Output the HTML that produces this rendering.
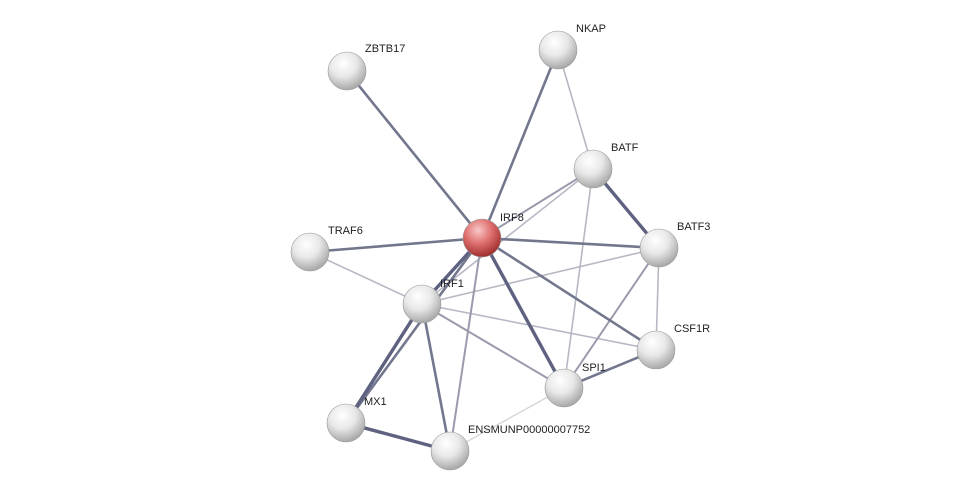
<!DOCTYPE html>
<html><head><style>
html,body{margin:0;padding:0;background:#fff;}
svg{display:block;}
text{font-family:"Liberation Sans",Arial,sans-serif;font-size:11px;fill:#222;}
</style></head><body>
<svg width="975" height="496" viewBox="0 0 975 496" xmlns="http://www.w3.org/2000/svg">
<defs>
<radialGradient id="g" cx="40%" cy="30%" r="70%">
<stop offset="0" stop-color="#ffffff"/><stop offset="0.5" stop-color="#e8e8e8"/><stop offset="1" stop-color="#a8a8a8"/>
</radialGradient>
<radialGradient id="r" cx="40%" cy="30%" r="70%">
<stop offset="0" stop-color="#f8c8c8"/><stop offset="0.5" stop-color="#e07070"/><stop offset="1" stop-color="#a03030"/>
</radialGradient>
</defs>
<g stroke-linecap="round">
<!-- light edges -->
<g stroke="#b8b8c4" stroke-width="1.6">
<line x1="558" y1="50" x2="593" y2="169"/>
<line x1="593" y1="169" x2="564" y2="388"/>
<line x1="593" y1="169" x2="422" y2="304"/>
<line x1="659" y1="248" x2="422" y2="304"/>
<line x1="659" y1="248" x2="656" y2="350"/>
<line x1="310" y1="252" x2="422" y2="304"/>
<line x1="422" y1="304" x2="656" y2="350"/>
</g>
<line x1="564" y1="388" x2="450" y2="451" stroke="#d6d6dc" stroke-width="1.4"/>
<g stroke="#9a9aac" stroke-width="2">
<line x1="482" y1="238" x2="593" y2="169"/>
<line x1="482" y1="238" x2="450" y2="451"/>
<line x1="659" y1="248" x2="564" y2="388"/>
<line x1="422" y1="304" x2="564" y2="388"/>
</g>
<g stroke="#73778e" stroke-width="2.6">
<line x1="347" y1="71" x2="482" y2="238"/>
<line x1="558" y1="50" x2="482" y2="238"/>
<line x1="482" y1="238" x2="659" y2="248"/>
<line x1="482" y1="238" x2="310" y2="252"/>
<line x1="482" y1="238" x2="346" y2="423"/>
<line x1="482" y1="238" x2="656" y2="350"/>
<line x1="656" y1="350" x2="564" y2="388"/>
<line x1="422" y1="304" x2="450" y2="451"/>
</g>
<g stroke="#5e6280" stroke-width="3.4">
<line x1="482" y1="238" x2="422" y2="304"/>
<line x1="482" y1="238" x2="564" y2="388"/>
<line x1="593" y1="169" x2="659" y2="248"/>
<line x1="422" y1="304" x2="346" y2="423"/>
<line x1="346" y1="423" x2="450" y2="451"/>
</g>
</g>
<g stroke="#999" stroke-width="0.6">
<circle cx="347" cy="71" r="19" fill="url(#g)"/>
<circle cx="558" cy="50" r="19" fill="url(#g)"/>
<circle cx="593" cy="169" r="19" fill="url(#g)"/>
<circle cx="310" cy="252" r="19" fill="url(#g)"/>
<circle cx="659" cy="248" r="19" fill="url(#g)"/>
<circle cx="422" cy="304" r="19" fill="url(#g)"/>
<circle cx="656" cy="350" r="19" fill="url(#g)"/>
<circle cx="564" cy="388" r="19" fill="url(#g)"/>
<circle cx="346" cy="423" r="19" fill="url(#g)"/>
<circle cx="450" cy="451" r="19" fill="url(#g)"/>
<circle cx="482" cy="238" r="19" fill="url(#r)"/>
</g>
<text x="365" y="52">ZBTB17</text>
<text x="576" y="32">NKAP</text>
<text x="611" y="151">BATF</text>
<text x="500" y="221">IRF8</text>
<text x="328" y="234">TRAF6</text>
<text x="677" y="230">BATF3</text>
<text x="440" y="287">IRF1</text>
<text x="674" y="332">CSF1R</text>
<text x="582" y="371">SPI1</text>
<text x="364" y="405">MX1</text>
<text x="468" y="433">ENSMUNP00000007752</text>
</svg>
</body></html>
